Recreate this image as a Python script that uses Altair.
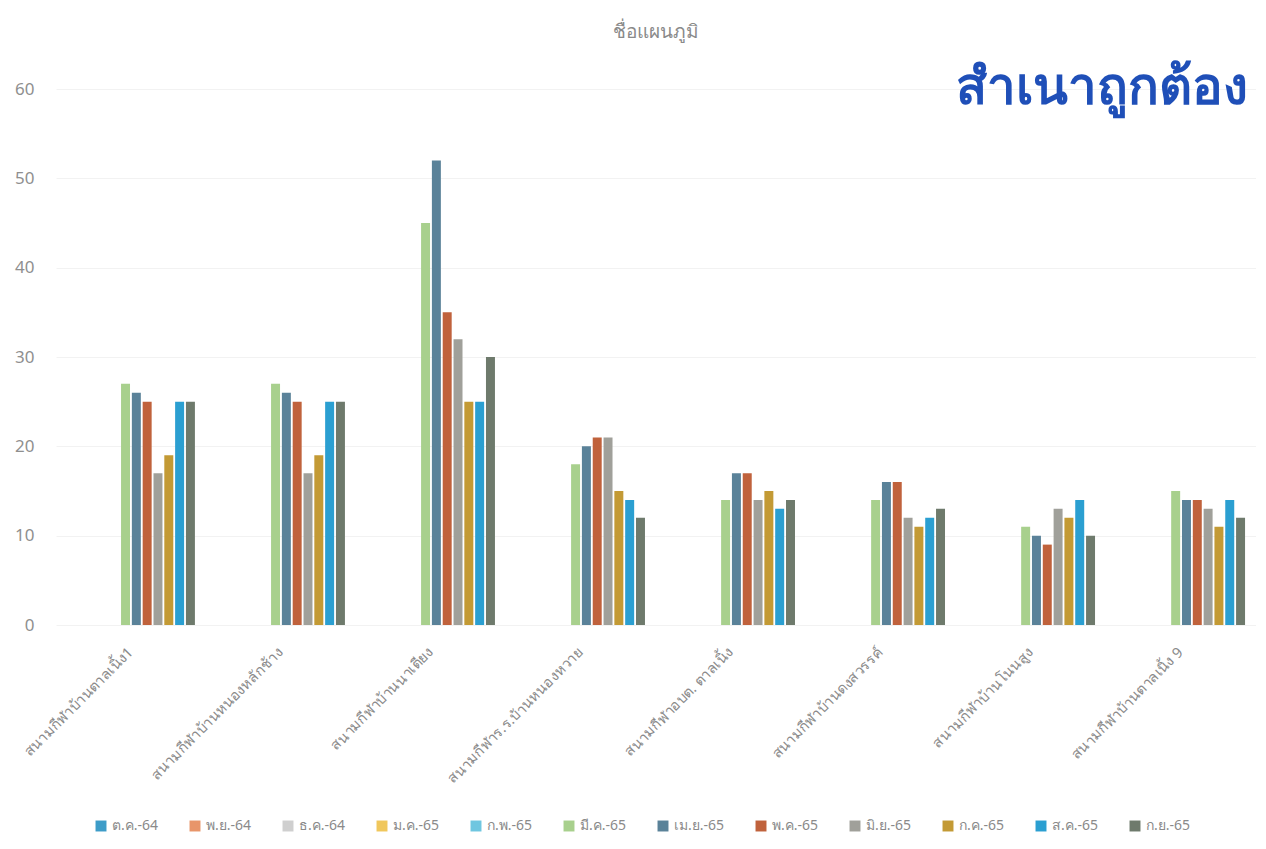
import altair as alt
import pandas as pd

sites = [
    "สนามกีฬาบ้านตาลเนิ้ง1",
    "สนามกีฬาบ้านหนองหลักช้าง",
    "สนามกีฬาบ้านนาเตียง",
    "สนามกีฬาร.ร.บ้านหนองหวาย",
    "สนามกีฬาอบต. ตาลเนิ้ง",
    "สนามกีฬาบ้านดงสวรรค์",
    "สนามกีฬาบ้านโนนสูง",
    "สนามกีฬาบ้านตาลเนิ้ง 9",
]
months = ["ต.ค.-64", "พ.ย.-64", "ธ.ค.-64", "ม.ค.-65", "ก.พ.-65", "มี.ค.-65",
          "เม.ย.-65", "พ.ค.-65", "มิ.ย.-65", "ก.ค.-65", "ส.ค.-65", "ก.ย.-65"]
colors = ["#3d9cc8", "#e8956a", "#cfcfcf", "#f0c75c", "#6fc6e0", "#a8d08d",
          "#5a8299", "#c0623c", "#a0a09a", "#c39a35", "#2b9fd1", "#6e7a6c"]

# values per month (rows) for each site (columns)
oct64 = [0, 0, 0, 0, 0, 0, 0, 0]
nov64 = [0, 0, 0, 0, 0, 0, 0, 0]
dec64 = [0, 0, 0, 0, 0, 0, 0, 0]
jan65 = [0, 0, 0, 0, 0, 0, 0, 0]
feb65 = [0, 0, 0, 0, 0, 0, 0, 0]
mar65 = [27, 27, 45, 18, 14, 14, 11, 15]
apr65 = [26, 26, 52, 20, 17, 16, 10, 14]
may65 = [25, 25, 35, 21, 17, 16, 9, 14]
jun65 = [17, 17, 32, 21, 14, 12, 13, 13]
jul65 = [19, 19, 25, 15, 15, 11, 12, 11]
aug65 = [25, 25, 25, 14, 13, 12, 14, 14]
sep65 = [25, 25, 30, 12, 14, 13, 10, 12]
series = [oct64, nov64, dec64, jan65, feb65, mar65, apr65, may65, jun65, jul65, aug65, sep65]

title_text = "ชื่อแผนภูมิ"
stamp_text = "สำเนาถูกต้อง"

rows = []
for m, vals in zip(months, series):
    for s, v in zip(sites, vals):
        rows.append({"site": s, "month": m, "value": v})
df = pd.DataFrame(rows)

font = "Noto Sans"

bars = alt.Chart(df).mark_bar().encode(
    x=alt.X("site:N", sort=sites, title=None,
            scale=alt.Scale(paddingInner=0.147, paddingOuter=0.073),
            axis=alt.Axis(labelAngle=-45, labelAlign="right", labelBaseline="middle",
                          labelPadding=25, labelFontSize=14.5, labelColor="#8a8a8a",
                          labelFont=font, ticks=False, domain=False, labelLimit=300)),
    xOffset=alt.XOffset("month:N", sort=months, scale=alt.Scale(paddingInner=0.17, paddingOuter=0)),
    y=alt.Y("value:Q", title=None,
            scale=alt.Scale(domain=[0, 60]),
            axis=alt.Axis(values=[0, 10, 20, 30, 40, 50, 60], labelFontSize=17,
                          labelColor="#8f8f8f", labelFont=font, labelPadding=22,
                          ticks=False, domain=False, gridColor="#f2f2f2")),
    color=alt.Color("month:N", sort=months,
                    scale=alt.Scale(domain=months, range=colors),
                    legend=alt.Legend(title=None, orient="none", direction="horizontal",
                                      legendX=38, legendY=730, symbolType="square",
                                      symbolSize=120, symbolStrokeWidth=0,
                                      labelFontSize=14, labelColor="#8a8a8a",
                                      labelFont=font, columnPadding=29, columns=12)),
)

stamp = alt.Chart(alt.Data(values=[{"t": stamp_text}])).mark_text(
    fontSize=51, fontWeight="bold", color="#1f4fb8", font=font, align="center", baseline="middle"
).encode(
    text="t:N",
    x=alt.value(1046),
    y=alt.value(0),
)

chart = alt.layer(bars, stamp).properties(
    width=1200,
    height=536,
    title=alt.TitleParams(title_text, fontSize=19, color="#8a8a8a", fontWeight="normal",
                          font=font, offset=21),
    autosize=alt.AutoSizeParams(type="none"),
    padding={"left": 48, "top": 81, "right": 0, "bottom": 208},
).configure_view(stroke=None)

chart.save("out.html", embed_options={"renderer": "svg", "actions": False})
